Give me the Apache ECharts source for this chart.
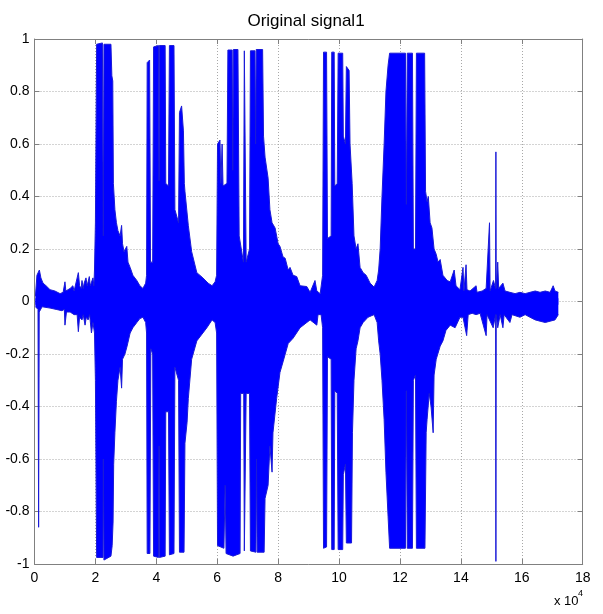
<!DOCTYPE html>
<html>
<head>
<meta charset="utf-8">
<script src="https://cdn.jsdelivr.net/npm/echarts/dist/echarts.min.js"></script>
<style>
  html, body { margin: 0; padding: 0; background: #ffffff; }
  #main { width: 603px; height: 614px; }
</style>
</head>
<body>
<div id="main"></div>
<script>
// Sample index axis, in units of 10^4 samples
const xTickValues = [0, 2, 4, 6, 8, 10, 12, 14, 16, 18];
const yTickValues = [-1, -0.8, -0.6, -0.4, -0.2, 0, 0.2, 0.4, 0.6, 0.8, 1];
const chartTitle = 'Original signal1';

// Upper envelope of the waveform: [sample index / 1e4, amplitude]
const upperEnvelope = [
  [0.03, 0.02], [0.08, 0.10], [0.16, 0.12], [0.21, 0.09], [0.28, 0.07], [0.38, 0.06],
  [0.51, 0.045], [0.67, 0.04], [0.84, 0.03], [0.94, 0.035], [1.00, 0.075], [1.03, 0.04],
  [1.17, 0.05], [1.26, 0.06], [1.30, 0.04], [1.36, 0.045], [1.44, 0.11], [1.48, 0.06],
  [1.53, 0.05], [1.56, 0.08], [1.60, 0.05], [1.63, 0.07], [1.69, 0.09], [1.73, 0.06],
  [1.80, 0.095], [1.83, 0.06], [1.86, 0.07], [1.92, 0.09], [1.95, 0.06], [1.97, 0.12],
  [2.00, 0.30], [2.04, 0.98], [2.23, 0.985], [2.26, 0.25], [2.28, 0.98], [2.51, 0.98],
  [2.54, 0.86], [2.57, 0.84], [2.59, 0.45], [2.64, 0.35], [2.69, 0.30], [2.74, 0.27],
  [2.81, 0.25], [2.86, 0.29], [2.89, 0.22], [2.94, 0.19], [3.03, 0.21], [3.07, 0.15],
  [3.14, 0.13], [3.23, 0.10], [3.36, 0.08], [3.46, 0.06], [3.56, 0.05], [3.65, 0.07],
  [3.68, 0.10], [3.70, 0.91], [3.78, 0.92], [3.81, 0.15], [3.88, 0.15], [3.91, 0.97],
  [4.07, 0.975], [4.09, 0.46], [4.10, 0.975], [4.29, 0.975], [4.31, 0.45], [4.40, 0.44],
  [4.43, 0.975], [4.58, 0.975], [4.61, 0.35], [4.73, 0.30], [4.76, 0.72], [4.83, 0.745],
  [4.89, 0.65], [4.92, 0.45], [4.94, 0.42], [5.05, 0.29], [5.16, 0.19], [5.33, 0.11],
  [5.53, 0.09], [5.70, 0.07], [5.83, 0.06], [5.93, 0.075], [5.98, 0.10], [6.01, 0.60],
  [6.09, 0.615], [6.12, 0.45], [6.16, 0.60], [6.19, 0.44], [6.32, 0.45], [6.35, 0.958],
  [6.49, 0.958], [6.51, 0.50], [6.53, 0.96], [6.68, 0.96], [6.72, 0.25], [6.86, 0.15],
  [6.89, 0.955], [6.92, 0.955], [6.95, 0.15], [7.06, 0.20], [7.09, 0.955], [7.24, 0.955],
  [7.26, 0.60], [7.28, 0.96], [7.49, 0.96], [7.52, 0.63], [7.57, 0.55], [7.67, 0.47],
  [7.73, 0.35], [7.80, 0.30], [7.90, 0.28], [8.00, 0.22], [8.06, 0.21], [8.16, 0.17],
  [8.23, 0.165], [8.33, 0.12], [8.39, 0.13], [8.49, 0.10], [8.61, 0.095], [8.72, 0.06],
  [8.94, 0.057], [9.05, 0.035], [9.21, 0.08], [9.27, 0.04], [9.38, 0.03], [9.46, 0.10],
  [9.49, 0.95], [9.59, 0.95], [9.62, 0.24], [9.74, 0.25], [9.76, 0.95], [9.84, 0.95],
  [9.86, 0.44], [9.94, 0.45], [9.97, 0.946], [10.12, 0.946], [10.14, 0.63], [10.21, 0.60],
  [10.24, 0.895], [10.33, 0.88], [10.36, 0.60], [10.43, 0.45], [10.49, 0.25], [10.56, 0.20],
  [10.62, 0.22], [10.69, 0.13], [10.79, 0.11], [10.89, 0.10], [11.02, 0.07], [11.15, 0.055],
  [11.25, 0.08], [11.30, 0.12], [11.35, 0.20], [11.41, 0.40], [11.48, 0.60], [11.54, 0.80],
  [11.61, 0.90], [11.66, 0.946], [12.18, 0.946], [12.21, 0.37], [12.24, 0.946], [12.41, 0.946],
  [12.44, 0.20], [12.51, 0.20], [12.54, 0.946], [12.81, 0.946], [12.84, 0.42], [12.89, 0.38],
  [12.93, 0.40], [12.99, 0.30], [13.05, 0.28], [13.12, 0.20], [13.19, 0.18], [13.25, 0.15],
  [13.32, 0.16], [13.41, 0.10], [13.55, 0.08], [13.65, 0.075], [13.78, 0.12], [13.84, 0.06],
  [13.97, 0.045], [14.07, 0.13], [14.10, 0.04], [14.17, 0.14], [14.20, 0.045], [14.30, 0.04],
  [14.50, 0.06], [14.53, 0.035], [14.70, 0.04], [14.83, 0.05], [14.94, 0.30], [14.96, 0.04],
  [15.07, 0.08], [15.14, 0.05], [15.15, 0.57], [15.16, 0.05], [15.21, 0.15], [15.24, 0.05],
  [15.38, 0.07], [15.45, 0.04], [15.61, 0.035], [15.78, 0.03], [15.94, 0.035], [16.11, 0.03],
  [16.27, 0.035], [16.44, 0.04], [16.60, 0.035], [16.77, 0.04], [16.93, 0.035], [17.03, 0.06],
  [17.09, 0.04], [17.20, 0.035]
];

// Lower envelope of the waveform: [sample index / 1e4, amplitude]
const lowerEnvelope = [
  [0.03, -0.02], [0.115, -0.03], [0.135, -0.86], [0.155, -0.04], [0.25, -0.02], [0.51, -0.025],
  [0.71, -0.03], [0.90, -0.035], [0.98, -0.03], [1.00, -0.09], [1.05, -0.04], [1.17, -0.04],
  [1.30, -0.05], [1.40, -0.05], [1.44, -0.115], [1.48, -0.06], [1.56, -0.07], [1.60, -0.05],
  [1.66, -0.09], [1.70, -0.06], [1.76, -0.07], [1.81, -0.05], [1.87, -0.12], [1.92, -0.08],
  [1.97, -0.12], [2.00, -0.30], [2.04, -0.975],
  [2.25, -0.975], [2.26, -0.60], [2.28, -0.985], [2.51, -0.97], [2.55, -0.93], [2.58, -0.84],
  [2.60, -0.62], [2.64, -0.50], [2.69, -0.38], [2.74, -0.30], [2.81, -0.25], [2.86, -0.33],
  [2.89, -0.22], [2.97, -0.20], [3.04, -0.17], [3.14, -0.12], [3.23, -0.10], [3.36, -0.08],
  [3.46, -0.065], [3.56, -0.06], [3.65, -0.08], [3.68, -0.12], [3.70, -0.96], [3.79, -0.96],
  [3.82, -0.18], [3.88, -0.20], [3.91, -0.97], [4.07, -0.975], [4.09, -0.55], [4.10, -0.975],
  [4.29, -0.97], [4.31, -0.42], [4.40, -0.42], [4.43, -0.965], [4.58, -0.96], [4.61, -0.25],
  [4.73, -0.30], [4.76, -0.955], [4.91, -0.955], [4.94, -0.54], [5.01, -0.46], [5.05, -0.37],
  [5.16, -0.22], [5.33, -0.15], [5.66, -0.10], [5.83, -0.07], [5.93, -0.08], [5.98, -0.12],
  [6.01, -0.93], [6.22, -0.94], [6.26, -0.70], [6.29, -0.96], [6.52, -0.97], [6.75, -0.96],
  [6.77, -0.35], [6.87, -0.35], [6.89, -0.95], [6.92, -0.95], [6.95, -0.35], [7.06, -0.35],
  [7.09, -0.95], [7.27, -0.955], [7.29, -0.60], [7.31, -0.955], [7.54, -0.955], [7.57, -0.75],
  [7.67, -0.70], [7.73, -0.55], [7.80, -0.65], [7.83, -0.50], [7.95, -0.37], [8.06, -0.27],
  [8.16, -0.23], [8.33, -0.16], [8.49, -0.14], [8.72, -0.10], [9.05, -0.07], [9.27, -0.09],
  [9.31, -0.05], [9.41, -0.05], [9.46, -0.10], [9.49, -0.94], [9.59, -0.935], [9.62, -0.21],
  [9.74, -0.22], [9.76, -0.945], [9.84, -0.945], [9.86, -0.34], [9.94, -0.35], [9.97, -0.945],
  [10.12, -0.945], [10.14, -0.66], [10.21, -0.62], [10.24, -0.92], [10.41, -0.92], [10.44, -0.50],
  [10.49, -0.30], [10.56, -0.18], [10.62, -0.15], [10.69, -0.10], [10.79, -0.08], [10.95, -0.06],
  [11.15, -0.05], [11.25, -0.08], [11.30, -0.15], [11.35, -0.20], [11.41, -0.30], [11.48, -0.45],
  [11.54, -0.65], [11.61, -0.82], [11.66, -0.94], [12.18, -0.94], [12.21, -0.34], [12.24, -0.94],
  [12.41, -0.94], [12.44, -0.30], [12.51, -0.28], [12.54, -0.94], [12.82, -0.94], [12.86, -0.50],
  [12.89, -0.45], [12.96, -0.35], [13.02, -0.40], [13.09, -0.50], [13.12, -0.28], [13.19, -0.22],
  [13.32, -0.17], [13.41, -0.15], [13.51, -0.11], [13.65, -0.09], [13.81, -0.10], [13.97, -0.06],
  [14.07, -0.06], [14.19, -0.13], [14.24, -0.05], [14.37, -0.045], [14.50, -0.05], [14.63, -0.045],
  [14.83, -0.13], [14.86, -0.05], [15.06, -0.10], [15.14, -0.05], [15.15, -0.99], [15.16, -0.05],
  [15.21, -0.10], [15.29, -0.05], [15.38, -0.10], [15.42, -0.05], [15.61, -0.08], [15.68, -0.05],
  [15.94, -0.06], [16.11, -0.05], [16.27, -0.06], [16.44, -0.07], [16.60, -0.075], [16.77, -0.08],
  [16.93, -0.075], [17.09, -0.07], [17.20, -0.05]
];

const signalColor = '#0000ff';
const edgeColor = '#1a1ad8';
const frameColor = '#808080';
const gridColor = '#a8a8a8';
const fontFamily = '"Liberation Sans", Arial, Helvetica, sans-serif';

const chart = echarts.init(document.getElementById('main'), null, { renderer: 'canvas' });

function frameAxis(extra) {
  return Object.assign({
    type: 'value',
    axisLine: { show: true, onZero: false, lineStyle: { color: frameColor, width: 1 } },
    axisTick: { show: true, inside: true, length: 5, lineStyle: { color: frameColor } },
    axisLabel: { show: false },
    splitLine: { show: false }
  }, extra);
}

const xMin = xTickValues[0], xMax = xTickValues[xTickValues.length - 1];
const xStep = xTickValues[1] - xTickValues[0];
const yMin = yTickValues[0], yMax = yTickValues[yTickValues.length - 1];
const yStep = 0.2;

// Each envelope is filled towards a baseline just past zero so the two
// halves overlap and leave no seam along the zero line.
const envelopeSeries = (name, data, baseline) => ({
  name: name,
  type: 'line',
  data: data,
  xAxisIndex: 0,
  yAxisIndex: 0,
  showSymbol: false,
  symbol: 'none',
  smooth: false,
  animation: false,
  lineStyle: { color: edgeColor, width: 1 },
  areaStyle: { color: signalColor, opacity: 1, origin: baseline },
  z: 3
});

chart.setOption({
  backgroundColor: '#ffffff',
  animation: false,
  title: {
    text: chartTitle,
    left: 301,
    textAlign: 'center',
    top: 8,
    textStyle: { fontFamily: fontFamily, fontSize: 17, fontWeight: 'normal', color: '#000' }
  },
  grid: { left: 34.5, right: 20.3, top: 39, bottom: 50, containLabel: false },
  xAxis: [
    frameAxis({
      position: 'bottom', min: xMin, max: xMax, interval: xStep,
      axisLabel: { show: true, color: '#000', fontFamily: fontFamily, fontSize: 14, margin: 7 },
      splitLine: { show: true, lineStyle: { color: gridColor, type: [1, 2], width: 1 } }
    }),
    frameAxis({ position: 'top', min: xMin, max: xMax, interval: xStep })
  ],
  yAxis: [
    frameAxis({
      position: 'left', min: yMin, max: yMax, interval: yStep,
      axisLabel: {
        show: true, color: '#000', fontFamily: fontFamily, fontSize: 14, margin: 5,
        formatter: v => String(Math.round(v * 10) / 10)
      },
      splitLine: { show: true, lineStyle: { color: gridColor, type: [1, 2], width: 1 } }
    }),
    frameAxis({ position: 'right', min: yMin, max: yMax, interval: yStep })
  ],
  graphic: [
    {
      type: 'text', left: 554, top: 595,
      style: { text: 'x 10', font: '13px ' + fontFamily, fill: '#000' }
    },
    {
      type: 'text', left: 578, top: 589,
      style: { text: '4', font: '9px ' + fontFamily, fill: '#000' }
    }
  ],
  series: [
    envelopeSeries('upper', upperEnvelope, -0.012),
    envelopeSeries('lower', lowerEnvelope, 0.012)
  ]
});
</script>
</body>
</html>
